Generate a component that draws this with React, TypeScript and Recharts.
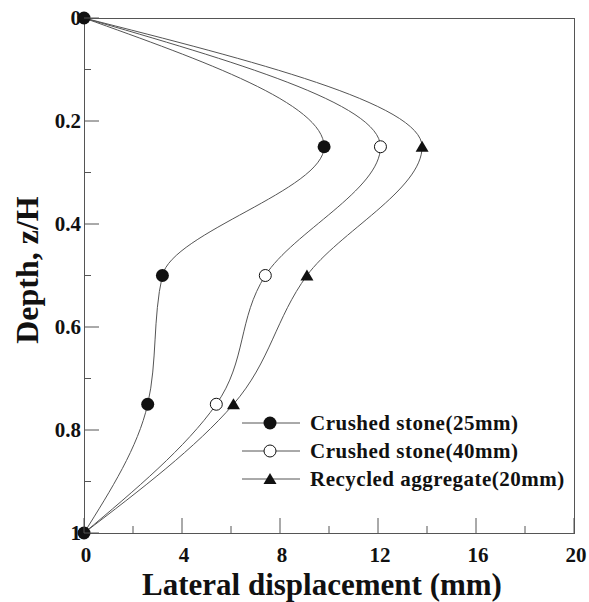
import { LineChart, Line, XAxis, YAxis } from "recharts";

// depth ratio z/H and lateral displacement (mm) per aggregate
const depths = [0, 0.25, 0.5, 0.75, 1];
const crushed25 = [0, 9.8, 3.2, 2.6, 0];
const crushed40 = [0, 12.1, 7.4, 5.4, 0];
const recycled20 = [0, 13.8, 9.1, 6.1, 0];

const seriesNames = ["Crushed stone(25mm)", "Crushed stone(40mm)", "Recycled aggregate(20mm)"];

const xTicks = [0, 2, 4, 6, 8, 10, 12, 14, 16, 18, 20];
const xLabels = [0, 4, 8, 12, 16, 20];
const yTicks = [0, 0.1, 0.2, 0.3, 0.4, 0.5, 0.6, 0.7, 0.8, 0.9, 1];
const yLabels = [0, 0.2, 0.4, 0.6, 0.8, 1];

const data = depths.map((z, i) => ({
  z,
  s25: crushed25[i],
  s40: crushed40[i],
  ra: recycled20[i],
}));

const FONT = "'Liberation Serif', 'Times New Roman', serif";
const INK = "#111";
const LINE = "#555";

function Marker({ kind, cx, cy }: { kind: string; cx: number; cy: number }) {
  if (kind === "filled") return <circle cx={cx} cy={cy} r={6.5} fill={INK} />;
  if (kind === "open") return <circle cx={cx} cy={cy} r={6} fill="#fff" stroke={INK} strokeWidth={1} />;
  return <path d={`M${cx},${cy - 6} L${cx + 6.5},${cy + 5} L${cx - 6.5},${cy + 5} Z`} fill={INK} />;
}

const makeDot = (kind: string, ends: boolean) => (props: any) => {
  const { cx, cy, index } = props;
  if (!ends && (index === 0 || index === depths.length - 1)) return <g key={index} />;
  return <Marker key={index} kind={kind} cx={cx} cy={cy} />;
};

const XTick = (props: any) => {
  const { x, y, payload } = props;
  const major = xLabels.includes(payload.value);
  return (
    <g>
      <line x1={x} x2={x} y1={y} y2={y - (major ? 15 : 7)} stroke={LINE} />
      {major && (
        <text x={x + 2} y={y + 29} textAnchor="middle" fontFamily={FONT} fontWeight="bold" fontSize={21} fill={INK}>
          {payload.value}
        </text>
      )}
    </g>
  );
};

const YTick = (props: any) => {
  const { x, y, payload } = props;
  const v = payload.value;
  const major = yLabels.includes(v);
  const label = v === 0 ? "0" : v === 1 ? "1" : v.toFixed(1);
  return (
    <g>
      <line x1={x} x2={x + (major ? 15 : 7)} y1={y} y2={y} stroke={LINE} />
      {major && (
        <text x={x - 3} y={y + 7} textAnchor="end" fontFamily={FONT} fontWeight="bold" fontSize={21} fill={INK}>
          {label}
        </text>
      )}
    </g>
  );
};

const legendItems = [
  { name: seriesNames[0], kind: "filled", top: 423 },
  { name: seriesNames[1], kind: "open", top: 451 },
  { name: seriesNames[2], kind: "tri", top: 479 },
];

export default function App() {
  return (
    <div style={{ position: "absolute", left: 0, top: 0, width: 589, height: 602, background: "#fff", fontFamily: FONT }}>
      {/* plot frame */}
      <div style={{ position: "absolute", left: 84, top: 18, width: 489, height: 514, border: `1px solid ${LINE}` }} />
      <div style={{ position: "absolute", left: 0, top: 0 }}>
        <LineChart width={589} height={602} data={data} layout="vertical" margin={{ top: 18, right: 15, bottom: 0, left: 0 }}>
          <XAxis
            type="number"
            domain={[0, 20]}
            ticks={xTicks}
            interval={0}
            height={69}
            tickSize={0}
            tickMargin={0}
            axisLine={false}
            tickLine={false}
            tick={<XTick />}
          />
          <YAxis
            type="number"
            dataKey="z"
            domain={[0, 1]}
            ticks={yTicks}
            interval={0}
            width={84}
            tickSize={0}
            tickMargin={0}
            axisLine={false}
            tickLine={false}
            tick={<YTick />}
          />
          <Line type="monotone" dataKey="ra" stroke={LINE} strokeWidth={1} dot={makeDot("tri", false)} isAnimationActive={false} />
          <Line type="monotone" dataKey="s40" stroke={LINE} strokeWidth={1} dot={makeDot("open", false)} isAnimationActive={false} />
          <Line type="monotone" dataKey="s25" stroke={LINE} strokeWidth={1} dot={makeDot("filled", true)} isAnimationActive={false} />
        </LineChart>
      </div>
      {/* legend */}
      {legendItems.map((it) => (
        <div key={it.name} style={{ position: "absolute", left: 240, top: it.top - 14, height: 28, display: "flex", alignItems: "center" }}>
          <svg width={62} height={28}>
            <line x1={2} x2={60} y1={14} y2={14} stroke={LINE} />
            <Marker kind={it.kind} cx={30} cy={14} />
          </svg>
          <span style={{ marginLeft: 8, fontWeight: "bold", fontSize: 21, letterSpacing: 0.5, color: INK, whiteSpace: "nowrap" }}>{it.name}</span>
        </div>
      ))}
      {/* axis titles */}
      <div style={{ position: "absolute", left: 22, top: 570, width: 600, textAlign: "center", fontSize: 31, lineHeight: "30px", fontWeight: "bold", color: INK, whiteSpace: "nowrap" }}>
        Lateral displacement (mm)
      </div>
      <div style={{ position: "absolute", left: -123, top: 253, width: 300, height: 34, textAlign: "center", fontSize: 32, lineHeight: "34px", fontWeight: "bold", color: INK, whiteSpace: "nowrap", transform: "rotate(-90deg)" }}>
        Depth, z/H
      </div>
    </div>
  );
}
